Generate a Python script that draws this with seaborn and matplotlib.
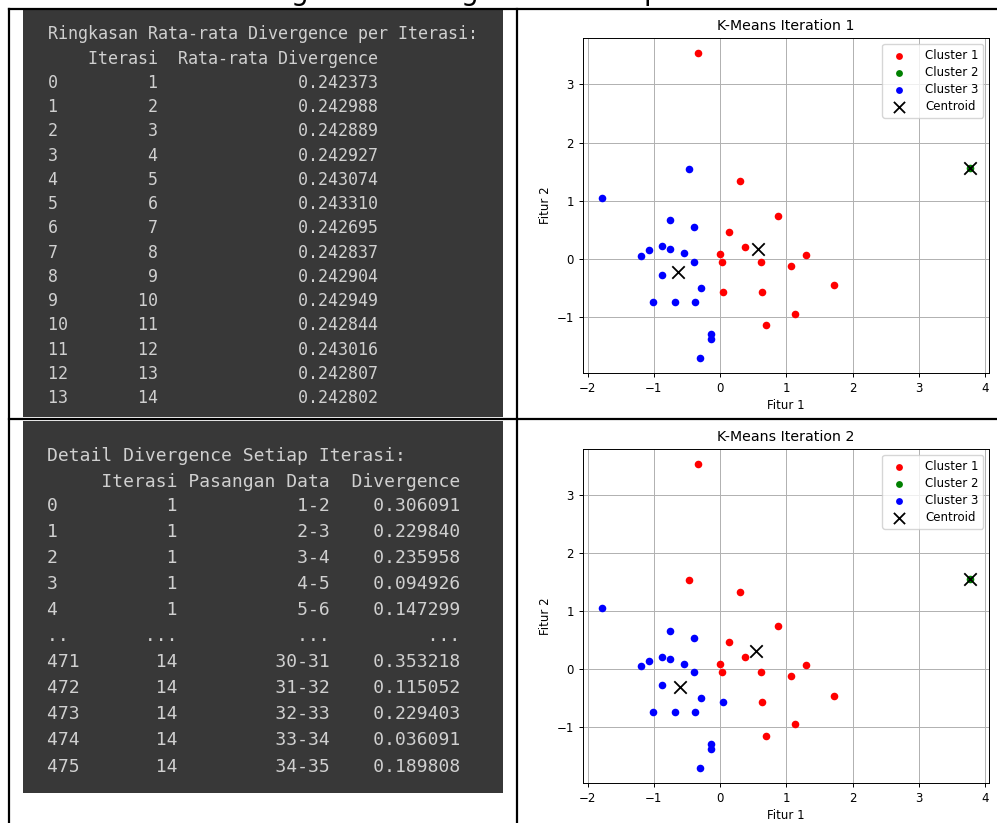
import numpy as np
import pandas as pd
import matplotlib
matplotlib.use("Agg")
import matplotlib.pyplot as plt
import seaborn as sns
from matplotlib.patches import Rectangle

# ---------------- data ----------------
iterasi = [1, 2, 3, 4, 5, 6, 7, 8, 9, 10, 11, 12, 13, 14]
rata_divergence = [0.242373, 0.242988, 0.242889, 0.242927, 0.243074, 0.243310,
                   0.242695, 0.242837, 0.242904, 0.242949, 0.242844, 0.243016,
                   0.242807, 0.242802]

detail_index = [0, 1, 2, 3, 4, 471, 472, 473, 474, 475]
detail_iterasi = [1, 1, 1, 1, 1, 14, 14, 14, 14, 14]
detail_pasangan = ["1-2", "2-3", "3-4", "4-5", "5-6", "30-31", "31-32", "32-33", "33-34", "34-35"]
detail_divergence = [0.306091, 0.229840, 0.235958, 0.094926, 0.147299,
                     0.353218, 0.115052, 0.229403, 0.036091, 0.189808]

fitur1 = [-0.33, 0.30, 0.87, 0.13, 0.37, 0.00, 0.03, 0.62, 1.07, 1.29, 1.72, 0.04, 0.63, 1.13, 0.70,
          -1.79, -0.47, -0.75, -0.39, -1.19, -1.07, -0.88, -0.76, -0.55, -0.39, -0.88, -0.29,
          -1.02, -0.68, -0.38, -0.14, -0.14, -0.31,
          3.78]
fitur2 = [3.54, 1.33, 0.74, 0.46, 0.20, 0.08, -0.06, -0.06, -0.13, 0.06, -0.46, -0.57, -0.57, -0.95, -1.15,
          1.05, 1.54, 0.66, 0.54, 0.05, 0.14, 0.21, 0.17, 0.09, -0.06, -0.28, -0.51,
          -0.74, -0.74, -0.74, -1.29, -1.39, -1.71,
          1.56]
cluster_iter1 = [1] * 15 + [3] * 18 + [2]
cluster_iter2 = [1] * 11 + [3] + [1] * 3 + [3, 1] + [3] * 16 + [2]

centroid_x_iter1 = [0.57, 3.78, -0.63]
centroid_y_iter1 = [0.16, 1.56, -0.23]
centroid_x_iter2 = [0.54, 3.78, -0.60]
centroid_y_iter2 = [0.31, 1.56, -0.32]

cluster_names = ["Cluster 1", "Cluster 2", "Cluster 3"]
cluster_colors = ["red", "green", "blue"]

# ---------------- figure ----------------
W, H = 997, 823
fig = plt.figure(figsize=(W / 100, H / 100), dpi=100)
fig.patch.set_facecolor("white")

bg = fig.add_axes([0, 0, 1, 1], zorder=0)
bg.set_xlim(0, W)
bg.set_ylim(H, 0)
bg.axis("off")

# table grid lines
lw = 1.6
bg.plot([9, 997], [9, 9], color="black", lw=lw)
bg.plot([9, 997], [419, 419], color="black", lw=lw)
bg.plot([9, 9], [9, 823], color="black", lw=lw)
bg.plot([517, 517], [9, 823], color="black", lw=lw)

# partially visible caption above the table
for ch, xp in [("g", 290), ("g", 460), ("p", 643)]:
    bg.text(xp, 0, ch, fontsize=20, va="baseline", ha="left", color="black", clip_on=False)

panel_color = "#383838"
text_color = "#d0d0d0"
bg.add_patch(Rectangle((23, 10), 480, 407, facecolor=panel_color, edgecolor="none"))
bg.add_patch(Rectangle((23, 421), 480, 372, facecolor=panel_color, edgecolor="none"))

mono = "DejaVu Sans Mono"

# top panel text
df_sum = pd.DataFrame({"Iterasi": iterasi, "Rata-rata Divergence": rata_divergence})
lines_top = ["Ringkasan Rata-rata Divergence per Iterasi:"] + df_sum.to_string().split("\n")
ys_top = [33, 58] + [82 + 24.23 * i for i in range(len(iterasi))]
for ln, yc in zip(lines_top, ys_top):
    bg.text(48, yc + 6, ln, family=mono, fontsize=12, color=text_color, va="baseline", ha="left")

# bottom panel text
lines_bot = ["Detail Divergence Setiap Iterasi:",
             f"{'':<3}  {'Iterasi':>7} {'Pasangan Data':>13}  {'Divergence':>10}"]
for k in range(len(detail_index)):
    if k == 5:
        lines_bot.append(f"{'..':<3}  {'...':>7} {'...':>13}  {'...':>10}")
    lines_bot.append(f"{detail_index[k]:<3}  {detail_iterasi[k]:>7} {detail_pasangan[k]:>13}  {detail_divergence[k]:>10.6f}")
ys_bot = [454, 480] + [504 + 26.1 * i for i in range(len(detail_index) + 1)]
for ln, yc in zip(lines_bot, ys_bot):
    bg.text(47, yc + 6.5, ln, family=mono, fontsize=13, color=text_color, va="baseline", ha="left")

# ---------------- scatter plots ----------------
fs = 8.5
plt.rcParams.update({
    "xtick.labelsize": fs, "ytick.labelsize": fs,
    "xtick.major.size": 3, "ytick.major.size": 3,
    "xtick.major.width": 0.7, "ytick.major.width": 0.7,
})


def px_rect(left, top, right, bottom):
    return [left / W, 1 - bottom / H, (right - left) / W, (bottom - top) / H]


def kmeans_plot(rect, labels, cx, cy, title):
    ax = fig.add_axes(rect, zorder=2)
    df = pd.DataFrame({"Fitur 1": fitur1, "Fitur 2": fitur2, "cluster": labels})
    for c, name, col in zip([1, 2, 3], cluster_names, cluster_colors):
        sub = df[df["cluster"] == c]
        sns.scatterplot(data=sub, x="Fitur 1", y="Fitur 2", color=col, s=30,
                        linewidth=0, label=name, ax=ax, zorder=3)
    ax.scatter(cx, cy, marker="x", c="black", s=80, linewidths=1.3, label="Centroid", zorder=4)
    ax.set_xlim(-2.07, 4.06)
    ax.set_ylim(-1.97, 3.80)
    ax.set_xticks([-2, -1, 0, 1, 2, 3, 4])
    ax.set_yticks([-1, 0, 1, 2, 3])
    ax.set_xticklabels(["\u22122", "\u22121", "0", "1", "2", "3", "4"])
    ax.set_yticklabels(["\u22121", "0", "1", "2", "3"])
    ax.grid(True, color="#b0b0b0", linewidth=0.7, zorder=0)
    ax.set_axisbelow(True)
    ax.set_title(title, fontsize=10.2, pad=5.5)
    ax.set_xlabel("Fitur 1", fontsize=fs, labelpad=3)
    ax.set_ylabel("Fitur 2", fontsize=fs, labelpad=3)
    for sp in ax.spines.values():
        sp.set_linewidth(0.7)
    ax.legend(loc="upper right", fontsize=fs, handletextpad=1.2, borderpad=0.4,
              labelspacing=0.35, markerscale=0.9)
    return ax


kmeans_plot(px_rect(583, 38, 989, 373), cluster_iter1, centroid_x_iter1, centroid_y_iter1,
            "K-Means Iteration 1")
kmeans_plot(px_rect(583, 449, 989, 783), cluster_iter2, centroid_x_iter2, centroid_y_iter2,
            "K-Means Iteration 2")

fig.savefig("out.png", dpi=100)
